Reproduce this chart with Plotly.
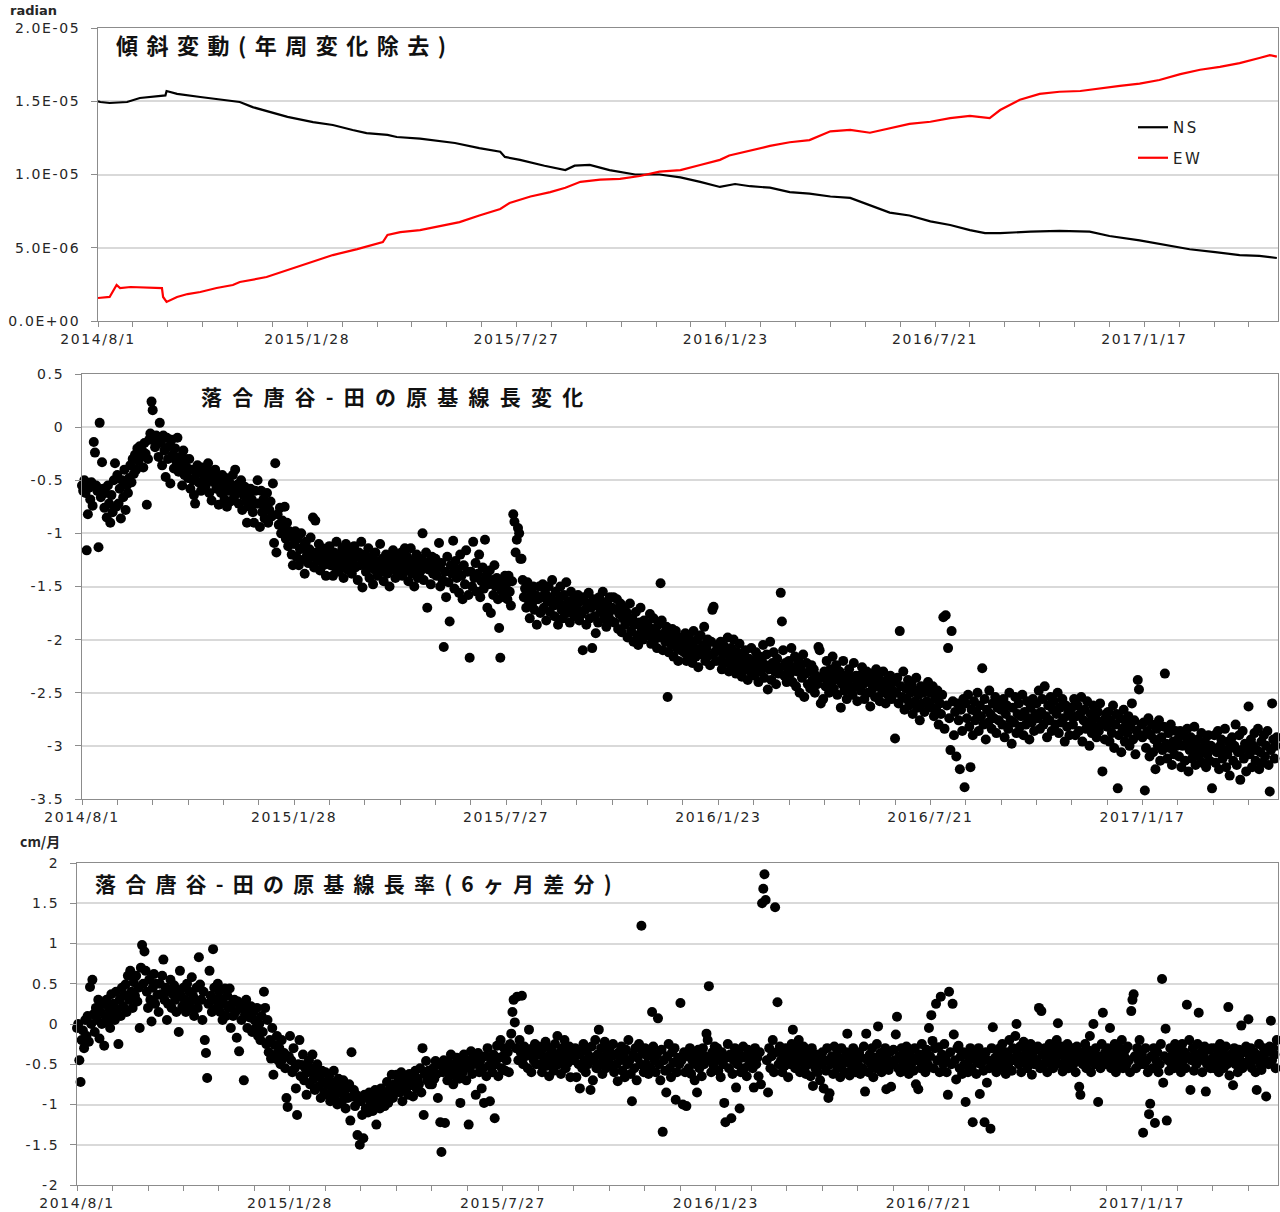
import pandas as pd
import plotly.graph_objects as go

# ---------------------------------------------------------------- data
START = "2014-08-01"
END = "2017-05-12"

date_labels = ["2014/8/1", "2015/1/28", "2015/7/27", "2016/1/23", "2016/7/21", "2017/1/17"]
tilt_labels = ["0.0E+00", "5.0E-06", "1.0E-05", "1.5E-05", "2.0E-05"]
length_labels = ["0.5", "0", "-0.5", "-1", "-1.5", "-2", "-2.5", "-3", "-3.5"]
rate_labels = ["2", "1.5", "1", "0.5", "0", "-0.5", "-1", "-1.5", "-2"]

# tilt, micro-radian, sampled at day offsets from START
ns_day = [0, 2, 10, 25, 36, 53, 58, 59, 68, 88,
          111, 122, 133, 150, 163, 185, 202, 219, 231, 249,
          257, 277, 294, 307, 328, 346, 350, 363, 384, 402,
          410, 423, 440, 462, 483, 501, 518, 535, 548, 561,
          578, 595, 612, 630, 647, 664, 681, 698, 716, 733,
          750, 763, 776, 802, 827, 853, 870, 896, 918, 939,
          961, 982, 999, 1014]
ns_urad = [15.0, 14.95, 14.88, 14.95, 15.22, 15.36, 15.4, 15.7, 15.5, 15.29,
           15.07, 14.95, 14.6, 14.2, 13.93, 13.58, 13.38, 13.04, 12.83, 12.7,
           12.56, 12.45, 12.3, 12.15, 11.8, 11.55, 11.2, 11.0, 10.6, 10.3,
           10.6, 10.65, 10.3, 10.0, 10.0, 9.8, 9.5, 9.15, 9.35, 9.2,
           9.1, 8.8, 8.7, 8.5, 8.4, 7.9, 7.4, 7.2, 6.8, 6.55,
           6.2, 6.0, 6.0, 6.1, 6.15, 6.1, 5.8, 5.5, 5.2, 4.9,
           4.7, 4.5, 4.45, 4.3]

ew_day = [0, 10, 16, 19, 28, 45, 55, 56, 59, 68,
          77, 88, 102, 116, 122, 145, 163, 180, 202, 223,
          245, 249, 260, 277, 294, 311, 328, 346, 354, 372,
          389, 402, 415, 432, 449, 466, 483, 501, 518, 535,
          543, 561, 578, 595, 612, 630, 647, 664, 681, 698,
          716, 733, 750, 767, 776, 793, 810, 827, 845, 862,
          879, 896, 913, 931, 948, 965, 982, 999, 1008, 1014]
ew_urad = [1.57, 1.64, 2.46, 2.25, 2.32, 2.3, 2.25, 1.64, 1.3, 1.64,
           1.84, 1.98, 2.25, 2.46, 2.66, 3.0, 3.48, 3.96, 4.5, 4.91,
           5.39, 5.87, 6.07, 6.2, 6.45, 6.75, 7.2, 7.65, 8.05, 8.5,
           8.8, 9.1, 9.5, 9.65, 9.7, 9.9, 10.2, 10.3, 10.65, 11.0,
           11.3, 11.65, 11.95, 12.2, 12.35, 12.95, 13.05, 12.85, 13.15, 13.45,
           13.6, 13.85, 14.0, 13.85, 14.4, 15.1, 15.5, 15.65, 15.7, 15.9,
           16.05, 16.2, 16.45, 16.85, 17.15, 17.35, 17.6, 17.95, 18.15, 18.05]

# daily baseline length change (cm), one value per day from START
baseline_cm = [
    -0.55, -0.6, -0.5, -0.62, -1.16, -0.82, -0.57, -0.68, -0.52, -0.74, -0.14, -0.24, -0.55, -0.6, -1.13,
    0.04, -0.66, -0.33, -0.58, -0.76, -0.62, -0.85, -0.55, -0.72, -0.9, -0.64, -0.8, -0.5, -0.34, -0.75,
    -0.45, -0.72, -0.58, -0.86, -0.5, -0.66, -0.4, -0.78, -0.55, -0.62, -0.48, -0.36, -0.52, -0.3, -0.44,
    -0.26, -0.4, -0.2, -0.32, -0.18, -0.28, -0.22, -0.38, -0.15, -0.25, -0.73, -0.3, -0.12, -0.06, 0.24,
    0.16, -0.12, -0.19, -0.08, -0.1, -0.28, 0.04, -0.15, -0.36, -0.08, -0.22, -0.47, -0.1, -0.3, -0.18,
    -0.53, -0.12, -0.26, -0.39, -0.2, -0.32, -0.1, -0.42, -0.28, -0.36, -0.55, -0.22, -0.45, -0.3, -0.38,
    -0.48, -0.3, -0.58, -0.4, -0.5, -0.64, -0.72, -0.44, -0.36, -0.52, -0.42, -0.6, -0.38, -0.5, -0.46,
    -0.55, -0.4, -0.34, -0.62, -0.48, -0.69, -0.44, -0.52, -0.4, -0.58, -0.47, -0.73, -0.5, -0.62, -0.45,
    -0.55, -0.68, -0.48, -0.75, -0.6, -0.52, -0.7, -0.58, -0.45, -0.66, -0.4, -0.62, -0.54, -0.72, -0.6,
    -0.5, -0.78, -0.64, -0.56, -0.7, -0.9, -0.62, -0.75, -0.58, -0.68, -0.8, -0.9, -0.6, -0.72, -0.5,
    -0.72, -0.94, -0.6, -0.8, -0.68, -0.86, -0.74, -0.62, -0.9, -0.78, -0.7, -0.84, -0.53, -1.09, -0.34,
    -1.18, -0.82, -0.92, -0.76, -1.0, -0.88, -0.95, -0.75, -1.05, -0.9, -1.12, -0.98, -1.03, -1.2, -1.3,
    -1.1, -0.98, -1.22, -1.05, -1.3, -1.15, -1.0, -1.25, -1.12, -1.38, -1.08, -1.2, -1.28, -1.15, -1.04,
    -1.22, -0.85, -1.32, -0.88, -1.18, -1.26, -1.1, -1.35, -1.2, -1.14, -1.3, -1.24, -1.4, -1.16, -1.28,
    -1.12, -1.3, -1.22, -1.4, -1.18, -1.32, -1.08, -1.26, -1.36, -1.2, -1.3, -1.14, -1.42, -1.24, -1.1,
    -1.34, -1.2, -1.28, -1.16, -1.38, -1.25, -1.12, -1.32, -1.22, -1.44, -1.18, -1.3, -1.08, -1.51, -1.26,
    -1.2, -1.36, -1.28, -1.14, -1.42, -1.3, -1.22, -1.48, -1.34, -1.18, -1.26, -1.4, -1.3, -1.1, -1.36,
    -1.24, -1.45, -1.32, -1.2, -1.38, -1.28, -1.5, -1.22, -1.34, -1.16, -1.3, -1.42, -1.26, -1.36, -1.2,
    -1.3, -1.18, -1.4, -1.25, -1.14, -1.35, -1.22, -1.45, -1.3, -1.14, -1.38, -1.26, -1.5, -1.32, -1.2,
    -1.42, -1.28, -1.36, -1.24, -1.0, -1.44, -1.3, -1.18, -1.7, -1.34, -1.26, -1.48, -1.22, -1.38, -1.3,
    -1.24, -1.4, -1.32, -1.09, -1.5, -1.28, -1.44, -2.07, -1.36, -1.6, -1.22, -1.46, -1.83, -1.3, -1.38,
    -1.07, -1.52, -1.26, -1.42, -1.34, -1.56, -1.2, -1.4, -1.62, -1.3, -1.48, -1.16, -1.36, -1.58, -2.17,
    -1.36, -1.5, -1.08, -1.42, -1.28, -1.55, -1.38, -1.2, -1.6, -1.45, -1.32, -1.52, -1.06, -1.4, -1.7,
    -1.48, -1.35, -1.75, -1.44, -1.58, -1.3, -1.5, -1.42, -1.62, -1.89, -2.17, -1.54, -1.46, -1.6, -1.4,
    -1.48, -1.62, -1.4, -1.55, -1.68, -1.45, -0.82, -0.89, -1.18, -1.06, -0.95, -1.0, -1.24, -1.24, -1.44,
    -1.6, -1.52, -1.7, -1.46, -1.63, -1.8, -1.55, -1.66, -1.5, -1.72, -1.58, -1.86, -1.62, -1.5, -1.75,
    -1.6, -1.48, -1.7, -1.56, -1.82, -1.64, -1.5, -1.74, -1.6, -1.44, -1.68, -1.78, -1.55, -1.66, -1.86,
    -1.62, -1.5, -1.72, -1.8, -1.58, -1.68, -1.46, -1.75, -1.64, -1.84, -1.55, -1.7, -1.62, -1.78, -1.66,
    -1.7, -1.58, -1.82, -1.64, -1.76, -2.1, -1.6, -1.72, -1.86, -1.66, -1.56, -1.8, -1.7, -2.08, -1.62,
    -1.78, -1.94, -1.68, -1.84, -1.6, -1.74, -1.66, -1.55, -1.8, -1.7, -1.88, -1.64, -1.76, -1.6, -1.82,
    -1.7, -1.6, -1.84, -1.72, -1.62, -1.9, -1.76, -1.66, -1.93, -1.8, -1.7, -1.86, -1.74, -1.98, -1.82,
    -1.66, -1.92, -1.8, -2.02, -1.86, -1.74, -1.96, -2.05, -1.84, -1.7, -1.9, -2.0, -1.82, -1.94, -1.88,
    -1.85, -1.96, -1.76, -2.04, -1.9, -1.8, -2.0, -1.92, -2.08, -1.86, -1.98, -1.47, -1.82, -2.1, -1.94,
    -2.02, -1.88, -2.54, -2.12, -1.96, -2.05, -1.9, -2.16, -2.0, -1.92, -2.08, -2.2, -1.98, -2.1, -2.04,
    -2.0, -2.12, -1.94, -2.2, -2.06, -1.98, -2.14, -2.04, -2.22, -1.92, -2.08, -2.16, -2.0, -2.26, -2.1,
    -1.96, -2.14, -2.05, -1.88, -2.2, -2.08, -2.0, -2.15, -2.24, -2.02, -1.72, -1.69, -2.12, -2.2, -2.06,
    -2.1, -2.2, -2.02, -2.28, -2.14, -2.06, -2.22, -2.12, -1.98, -2.3, -2.16, -2.08, -2.24, -2.0, -2.18,
    -2.32, -2.12, -2.26, -2.04, -2.2, -2.35, -2.14, -2.28, -2.1, -2.22, -2.38, -2.18, -2.3, -2.08, -2.24,
    -2.2, -2.34, -2.12, -2.26, -2.4, -2.16, -2.3, -2.2, -2.05, -2.36, -2.24, -2.14, -2.47, -2.28, -2.02,
    -2.38, -2.22, -2.12, -2.3, -2.42, -2.18, -2.32, -2.26, -1.56, -1.83, -2.1, -2.34, -2.22, -2.4, -2.28,
    -2.2, -2.32, -2.08, -2.4, -2.26, -2.16, -2.44, -2.3, -2.2, -2.5, -2.25, -2.36, -2.14, -2.54, -2.32,
    -2.22, -2.42, -2.3, -2.46, -2.24, -2.38, -2.28, -2.5, -2.34, -2.42, -2.07, -2.1, -2.6, -2.36, -2.56,
    -2.3, -2.44, -2.2, -2.36, -2.5, -2.28, -2.4, -2.16, -2.46, -2.32, -2.24, -2.52, -2.38, -2.3, -2.64,
    -2.42, -2.2, -2.48, -2.34, -2.56, -2.4, -2.28, -2.46, -2.36, -2.52, -2.22, -2.44, -2.34, -2.58, -2.4,
    -2.34, -2.48, -2.26, -2.42, -2.56, -2.36, -2.3, -2.5, -2.4, -2.63, -2.32, -2.46, -2.38, -2.54, -2.28,
    -2.44, -2.36, -2.58, -2.42, -2.5, -2.3, -2.46, -2.6, -2.38, -2.52, -2.42, -2.34, -2.56, -2.48, -2.4,
    -2.93, -2.5, -2.36, -2.6, -1.92, -2.44, -2.54, -2.3, -2.66, -2.46, -2.56, -2.38, -2.62, -2.5, -2.42,
    -2.7, -2.48, -2.58, -2.36, -2.64, -2.52, -2.76, -2.44, -2.6, -2.5, -2.68, -2.46, -2.58, -2.4, -2.62,
    -2.5, -2.64, -2.44, -2.72, -2.56, -2.66, -2.48, -2.8, -2.6, -2.7, -2.52, -1.79, -2.84, -1.77, -2.62,
    -2.08, -2.74, -3.04, -1.92, -2.58, -2.9, -2.68, -3.1, -2.6, -2.76, -3.22, -2.66, -2.86, -2.56, -3.39,
    -2.6, -2.74, -2.52, -2.82, -3.2, -2.66, -2.9, -2.58, -2.76, -2.68, -2.5, -2.86, -2.62, -2.72, -2.27,
    -2.8, -2.56, -2.94, -2.66, -2.78, -2.48, -2.7, -2.84, -2.6, -2.74, -2.54, -2.88, -2.64, -2.76, -2.58,
    -2.66, -2.8, -2.56, -2.92, -2.7, -2.62, -2.84, -2.5, -2.76, -2.98, -2.64, -2.78, -2.54, -2.88, -2.7,
    -2.6, -2.82, -2.72, -2.52, -2.9, -2.68, -2.8, -2.58, -2.74, -2.94, -2.64, -2.78, -2.56, -2.86, -2.7,
    -2.6, -2.74, -2.48, -2.84, -2.68, -2.56, -2.8, -2.44, -2.72, -2.92, -2.62, -2.76, -2.54, -2.86, -2.66,
    -2.58, -2.8, -2.7, -2.5, -2.88, -2.64, -2.78, -2.56, -2.74, -2.96, -2.62, -2.82, -2.68, -2.9, -2.72,
    -2.64, -2.8, -2.56, -2.9, -2.72, -2.62, -2.86, -2.7, -2.54, -2.96, -2.76, -2.66, -2.84, -2.58, -2.78,
    -3.0, -2.7, -2.88, -2.62, -2.82, -2.74, -2.92, -2.68, -2.86, -2.6, -2.8, -3.24, -2.76, -2.94, -2.7,
    -2.82, -2.68, -2.96, -2.76, -2.88, -2.62, -3.02, -2.8, -2.7, -3.4, -2.9, -2.74, -3.06, -2.84, -2.66,
    -2.96, -2.78, -2.88, -2.72, -3.0, -2.82, -2.6, -2.94, -2.76, -3.08, -2.86, -2.38, -2.47, -2.9, -2.8,
    -2.92, -2.78, -3.42, -3.02, -2.86, -2.74, -3.1, -2.9, -2.8, -3.06, -2.94, -3.22, -2.84, -3.0, -2.76,
    -3.14, -2.92, -3.04, -2.82, -2.32, -2.98, -3.12, -2.88, -3.02, -2.8, -3.18, -2.96, -3.08, -2.86, -3.0,
    -2.94, -3.1, -2.86, -3.2, -3.0, -2.9, -3.14, -2.98, -2.84, -3.24, -3.04, -2.92, -3.12, -3.0, -2.82,
    -3.18, -3.06, -2.94, -3.1, -3.02, -2.88, -3.16, -3.04, -2.96, -3.2, -3.08, -2.9, -3.14, -3.0, -3.4,
    -3.02, -2.9, -3.16, -3.06, -2.86, -3.22, -3.0, -2.94, -3.12, -3.04, -2.84, -3.2, -3.08, -2.96, -3.28,
    -3.02, -2.92, -3.14, -3.0, -2.8, -3.18, -3.06, -2.9, -3.32, -3.04, -2.86, -3.12, -2.98, -3.24, -3.02,
    -2.63, -3.08, -2.94, -3.2, -3.0, -2.88, -3.14, -3.04, -2.84, -3.22, -3.06, -2.96, -3.16, -2.9, -3.1,
    -3.0, -2.86, -3.18, -3.43, -3.04, -2.6, -2.94, -3.12, -3.0, -2.92,
]

# daily baseline length rate, 6-month difference (cm/month), one value per day from START
rate_cm_month = [
    -0.05, 0.0, -0.45, -0.72, -0.2, -0.08, -0.3, 0.05, -0.15, 0.1, -0.22, 0.46, 0.0, 0.55, 0.12,
    -0.1, 0.2, 0.05, 0.3, -0.18, 0.15, 0.0, 0.25, -0.27, 0.1, 0.3, 0.02, 0.2, -0.05, 0.37,
    0.12, 0.25, 0.05, 0.4, 0.18, -0.25, 0.3, 0.1, 0.45, 0.22, 0.36, 0.49, 0.15, 0.6, 0.3,
    0.66, 0.4, 0.2, 0.52, 0.35, 0.6, 0.28, 0.45, -0.05, 0.7, 0.98, 0.5, 0.9, 0.66, 0.4,
    0.2, 0.55, 0.3, 0.03, 0.45, 0.62, 0.25, 0.5, 0.36, 0.15, 0.5, 0.37, 0.6, 0.8, 0.3,
    0.45, 0.05, 0.25, 0.4, 0.55, 0.2, 0.37, 0.48, 0.3, 0.15, 0.42, -0.1, 0.66, 0.35, 0.22,
    0.45, 0.3, 0.15, 0.5, 0.28, 0.4, 0.2, 0.58, 0.35, 0.1, 0.3, 0.45, 0.2, 0.83, 0.49,
    0.3, 0.05, 0.4, -0.2, -0.36, -0.67, 0.25, 0.66, 0.35, 0.15, 0.93, 0.45, 0.3, 0.2, 0.5,
    0.4, 0.15, 0.3, 0.05, 0.25, 0.44, 0.1, 0.35, 0.2, 0.44, -0.05, 0.25, 0.1, 0.3, 0.15,
    -0.17, 0.28, -0.34, 0.2, 0.05, 0.25, -0.7, 0.12, 0.3, -0.05, 0.18, 0.08, 0.22, -0.1, 0.15,
    0.05, -0.05, 0.2, -0.15, 0.0, -0.2, 0.1, -0.1, 0.4, 0.2, -0.25, 0.05, -0.35, -0.2, -0.43,
    -0.05, -0.63, -0.26, -0.38, -0.15, -0.45, -0.3, -0.5, -0.2, -0.43, -0.36, -0.55, -0.92, -1.03, -0.4,
    -0.15, -0.45, -0.6, -0.3, -0.55, -0.8, -1.13, -0.5, -0.2, -0.65, -0.51, -0.38, -0.7, -0.55, -0.88,
    -0.6, -0.45, -0.75, -0.55, -0.38, -0.68, -0.82, -0.6, -0.5, -0.78, -0.66, -0.92, -0.58, -0.72, -0.85,
    -0.6, -0.75, -0.88, -0.65, -0.96, -0.72, -0.82, -0.58, -0.9, -0.75, -1.0, -0.68, -0.85, -0.78, -0.96,
    -0.7, -0.88, -1.05, -0.8, -0.92, -0.75, -1.2, -0.35, -0.9, -0.82, -1.02, -0.88, -1.38, -0.96, -1.5,
    -0.96, -1.13, -1.42, -0.88, -1.05, -0.92, -1.1, -0.85, -1.0, -0.9, -1.08, -0.95, -0.82, -1.25, -1.0,
    -0.88, -1.05, -0.8, -0.95, -0.9, -1.02, -0.85, -0.72, -0.98, -0.88, -0.8, -0.63, -0.92, -0.75, -0.85,
    -0.63, -0.8, -0.7, -0.85, -0.6, -0.96, -0.75, -0.68, -0.82, -0.7, -0.88, -0.62, -0.76, -0.66, -0.9,
    -0.72, -0.58, -0.8, -0.68, -0.75, -0.55, -0.85, -0.3, -1.13, -0.62, -0.46, -0.7, -0.58, -0.75, -0.6,
    -0.75, -0.55, -0.68, -0.46, -0.62, -0.92, -0.5, -1.22, -1.59, -0.6, -0.45, -1.23, -0.55, -0.7, -0.48,
    -0.62, -0.38, -0.58, -0.75, -0.5, -0.65, -0.42, -0.55, -0.68, -0.98, -0.45, -0.6, -0.38, -0.52, -0.7,
    -0.45, -1.25, -0.55, -0.34, -0.62, -0.48, -0.4, -0.88, -0.5, -0.36, -0.6, -0.45, -0.8, -0.55, -0.98,
    -0.4, -0.65, -0.3, -0.52, -0.96, -0.44, -0.6, -0.38, -1.17, -0.5, -0.27, -0.65, -0.42, -0.2, -0.55,
    -0.4, -0.3, -0.58, -0.45, -0.35, -0.6, -0.25, -0.12, 0.15, 0.3, 0.02, -0.3, 0.34, -0.45, -0.2,
    -0.35, 0.35, -0.5, -0.28, -0.4, -0.32, -0.55, -0.07, -0.38, -0.6, -0.3, -0.45, -0.25, -0.5, -0.36,
    -0.28, -0.5, -0.38, -0.6, -0.3, -0.45, -0.22, -0.52, -0.4, -0.65, -0.3, -0.48, -0.35, -0.58, -0.25,
    -0.42, -0.15, -0.5, -0.36, -0.62, -0.3, -0.45, -0.2, -0.55, -0.38, -0.48, -0.28, -0.66, -0.4, -0.32,
    -0.45, -0.3, -0.66, -0.38, -0.5, -0.8, -0.35, -0.55, -0.25, -0.45, -0.6, -0.32, -0.5, -0.4, -0.82,
    -0.28, -0.7, -0.45, -0.2, -0.55, -0.38, -0.07, -0.5, -0.3, -0.62, -0.42, -0.22, -0.55, -0.35, -0.48,
    -0.3, -0.52, -0.4, -0.25, -0.6, -0.38, -0.5, -0.71, -0.35, -0.45, -0.28, -0.58, -0.4, -0.66, -0.32,
    -0.5, -0.2, -0.45, -0.62, -0.96, -0.38, -0.55, -0.3, -0.7, -0.42, -0.25, -0.5, 1.22, -0.36, -0.6,
    -0.3, -0.5, -0.4, -0.62, -0.35, -0.55, 0.15, -0.28, -0.45, -0.6, -0.38, 0.07, -0.5, -0.7, -0.32,
    -1.34, -0.45, -0.58, -0.85, -0.4, -0.25, -0.55, -0.66, -0.35, -0.48, -0.3, -0.94, -0.6, -0.42, -0.5,
    0.26, -0.45, -1.0, -0.35, -0.6, -1.02, -0.4, -0.55, -0.3, -0.62, -0.45, -0.38, -0.7, -0.5, -0.85,
    -0.32, -0.55, -0.42, -0.65, -0.3, -0.5, -0.4, -0.12, -0.2, 0.47, -0.45, -0.6, -0.35, -0.52, -0.28,
    -0.45, -0.3, -0.58, -0.4, -0.66, -0.35, -0.5, -0.98, -1.22, -0.42, -0.25, -0.55, -0.38, -1.17, -0.62,
    -0.45, -0.3, -0.79, -0.5, -0.36, -1.05, -0.6, -0.42, -0.28, -0.55, -0.4, -0.65, -0.32, -0.5, -0.45,
    -0.4, -0.55, -0.79, -0.3, -0.5, -0.42, -0.65, -0.35, -0.75, 1.5, 1.68, 1.86, 1.54, -0.45, -0.85,
    -0.3, -0.55, -0.4, -0.2, -0.6, 1.45, -0.35, 0.27, -0.5, -0.28, -0.45, -0.6, -0.38, -0.52, -0.3,
    -0.45, -0.66, -0.35, -0.5, -0.25, -0.07, -0.4, -0.55, -0.3, -0.48, -0.2, -0.6, -0.38, -0.45, -0.28,
    -0.55, -0.62, -0.35, -0.5, -0.4, -0.65, -0.3, -0.77, -0.45, -0.55, -0.38, -0.6, -0.42, -0.7, -0.5,
    -0.35, -0.8, -0.45, -0.58, -0.3, -0.92, -0.86, -0.5, -0.4, -0.62, -0.28, -0.5, -0.38, -0.55, -0.45,
    -0.66, -0.3, -0.5, -0.42, -0.6, -0.35, -0.12, -0.48, -0.64, -0.4, -0.55, -0.3, -0.45, -0.6, -0.38,
    -0.5, -0.35, -0.62, -0.42, -0.55, -0.28, -0.84, -0.12, -0.45, -0.6, -0.38, -0.5, -0.3, -0.66, -0.42,
    -0.55, -0.25, -0.03, -0.48, -0.36, -0.6, -0.4, -0.52, -0.3, -0.81, -0.45, -0.57, -0.35, -0.78, -0.5,
    -0.32, -0.45, -0.13, 0.09, -0.55, -0.4, -0.6, -0.3, -0.48, -0.38, -0.55, -0.28, -0.45, -0.62, -0.35,
    -0.5, -0.42, -0.58, -0.3, -0.75, -0.45, -0.81, -0.38, -0.55, -0.25, -0.48, -0.4, -0.6, -0.32, -0.5,
    -0.05, -0.4, 0.11, -0.21, -0.55, -0.3, 0.25, -0.45, -0.29, -0.6, 0.34, -0.38, -0.5, -0.25, -0.42,
    -0.6, -0.88, 0.4, -0.35, -0.5, 0.25, -0.13, -0.45, -0.69, -0.3, -0.27, -0.55, -0.4, -0.62, -0.35,
    -0.5, -0.97, -0.38, -0.6, -0.45, -0.3, -0.55, -1.22, -0.42, -0.35, -0.62, -0.48, -0.3, -0.87, -0.5,
    -0.4, -0.58, -1.22, -0.35, -0.73, -0.45, -0.55, -1.3, -0.3, -0.04, -0.5, -0.42, -0.6, -0.38, -0.52,
    -0.3, -0.45, -0.25, -0.55, -0.4, -0.62, -0.35, -0.5, -0.2, -0.42, -0.58, -0.3, -0.45, -0.15, 0.0,
    -0.38, -0.5, -0.28, -0.6, -0.4, -0.22, -0.48, -0.35, -0.55, -0.3, -0.45, -0.25, -0.63, -0.4, -0.5,
    -0.32, -0.45, -0.28, 0.2, -0.55, 0.16, -0.38, -0.5, -0.3, -0.45, -0.6, -0.35, -0.25, -0.5, -0.4,
    -0.55, -0.3, -0.45, -0.2, 0.01, -0.38, -0.5, -0.28, -0.59, -0.4, -0.32, -0.48, -0.25, -0.55, -0.36,
    -0.45, -0.3, -0.5, -0.38, -0.6, -0.28, -0.45, -0.78, -0.88, -0.35, -0.5, -0.4, -0.25, -0.55, -0.32,
    -0.45, -0.15, -0.6, -0.38, 0.0, -0.5, -0.3, -0.45, -0.97, -0.4, -0.55, -0.25, 0.14, -0.48, -0.35,
    -0.5, -0.3, -0.42, -0.05, -0.55, -0.35, -0.45, -0.25, -0.6, -0.38, -0.5, -0.3, -0.45, -0.2, -0.55,
    -0.4, -0.32, -0.5, -0.28, -0.45, -0.6, 0.16, 0.3, 0.37, -0.4, -0.55, -0.3, -0.45, -0.2, -0.5,
    -0.38, -1.35, -0.5, -0.3, -0.45, -0.6, -1.12, -0.99, -0.4, -0.55, -0.3, -1.23, -0.45, -0.35, -0.6,
    -0.5, -0.25, 0.56, -0.73, -0.4, -0.06, -1.2, -0.45, -0.58, -0.3, -0.5, -0.38, -0.55, -0.25, -0.42,
    -0.3, -0.5, -0.38, -0.6, -0.25, -0.45, -0.35, -0.55, 0.24, -0.4, -0.2, -0.82, -0.45, -0.3, -0.58,
    -0.38, -0.5, -0.25, 0.14, -0.45, -0.35, -0.6, -0.4, -0.28, -0.84, -0.5, -0.32, -0.45, -0.55, -0.3,
    -0.42, -0.55, -0.3, -0.5, -0.38, -0.6, -0.25, -0.45, -0.35, -0.55, -0.4, -0.28, -0.5, 0.21, -0.64,
    -0.38, -0.45, -0.76, -0.3, -0.5, -0.4, -0.6, -0.32, -0.45, -0.02, -0.55, -0.35, -0.48, -0.28, -0.5,
    0.06, -0.4, -0.3, -0.55, -0.45, -0.35, -0.6, -0.82, -0.42, -0.25, -0.5, -0.57, -0.38, -0.3, -0.45,
    -0.9, -0.35, -0.5, -0.28, 0.04, -0.45, -0.3, -0.38, -0.55, -0.2,
]

# ---------------------------------------------------------------- helpers
start = pd.Timestamp(START)


def day_dates(days):
    return start + pd.to_timedelta(days, unit="D")


def daily_dates(values):
    return pd.date_range(START, periods=len(values), freq="D")


def spaced(text, px):
    return f'<span style="letter-spacing:{px}px">{text}</span>'


TICK_FONT = dict(family="DejaVu Sans", size=14, color="#262626")
TITLE_FONT = dict(family="Noto Sans CJK JP", size=21, color="#111111")
GRID = "#d9d9d9"
LINE = "#8c8c8c"

date_vals = pd.to_datetime(date_labels, format="%Y/%m/%d")
date_text = [spaced(t, 1.6) for t in date_labels]


def x_axis(domain, anchor):
    return dict(
        domain=domain, anchor=anchor, type="date", range=[START, END],
        automargin=False,
        tickmode="array", tickvals=date_vals, ticktext=date_text,
        ticks="outside", ticklen=5, tickcolor=LINE, tickwidth=1,
        minor=dict(ticks="outside", ticklen=5, tickcolor=LINE, tickwidth=1,
                   tick0=START, dtick=30 * 86400000, showgrid=False),
        showgrid=False, showline=True, linecolor=LINE, linewidth=1, mirror=True,
        tickfont=TICK_FONT, zeroline=False,
    )


def y_axis(domain, anchor, labels, lo, hi):
    return dict(
        domain=domain, anchor=anchor, range=[lo, hi],
        automargin=False,
        tickmode="array", tickvals=[float(t) for t in labels],
        ticktext=[spaced(t, 1.6) for t in labels],
        ticks="outside", ticklen=6, tickcolor=LINE, tickwidth=1,
        ticklabelstandoff=8,
        showgrid=True, gridcolor=GRID, gridwidth=1.5,
        showline=True, linecolor=LINE, linewidth=1, mirror=True,
        tickfont=TICK_FONT, zeroline=False,
    )


W, H = 1280, 1212


def px_x(p):
    return p / W


def px_y(p):
    return 1 - p / H


# ---------------------------------------------------------------- figure
fig = go.Figure()

fig.add_trace(go.Scatter(
    x=day_dates(ns_day), y=[v * 1e-6 for v in ns_urad], mode="lines",
    name=spaced("NS", 2.5), legendgroup="ns",
    line=dict(color="#000000", width=2.2), xaxis="x", yaxis="y",
))
fig.add_trace(go.Scatter(
    x=day_dates(ew_day), y=[v * 1e-6 for v in ew_urad], mode="lines",
    name=spaced("EW", 2.5), legendgroup="ew",
    line=dict(color="#ff0000", width=2.2), xaxis="x", yaxis="y",
))
fig.add_trace(go.Scatter(
    x=daily_dates(baseline_cm), y=baseline_cm, mode="markers", showlegend=False,
    marker=dict(color="#000000", size=10, line=dict(width=0)),
    cliponaxis=False, xaxis="x2", yaxis="y2",
))
fig.add_trace(go.Scatter(
    x=daily_dates(rate_cm_month), y=rate_cm_month, mode="markers", showlegend=False,
    marker=dict(color="#000000", size=10, line=dict(width=0)),
    cliponaxis=False, xaxis="x3", yaxis="y3",
))

dom1_x = [px_x(98), px_x(1278)]
dom1_y = [px_y(321), px_y(28)]
dom2_x = [px_x(82), px_x(1278)]
dom2_y = [px_y(799), px_y(374)]
dom3_x = [px_x(77), px_x(1278)]
dom3_y = [px_y(1185), px_y(863)]

fig.update_layout(
    width=W, height=H, margin=dict(l=0, r=0, t=0, b=0, autoexpand=False),
    paper_bgcolor="white", plot_bgcolor="white",
    xaxis=x_axis(dom1_x, "y"),
    yaxis=y_axis(dom1_y, "x", tilt_labels, 0, 2e-5),
    xaxis2=x_axis(dom2_x, "y2"),
    yaxis2=y_axis(dom2_y, "x2", length_labels, -3.5, 0.5),
    xaxis3=x_axis(dom3_x, "y3"),
    yaxis3=y_axis(dom3_y, "x3", rate_labels, -2, 2),
    showlegend=True,
    legend=dict(
        x=px_x(1133), y=px_y(111), xanchor="left", yanchor="top",
        bgcolor="rgba(0,0,0,0)", traceorder="grouped", tracegroupgap=8,
        font=dict(family="DejaVu Sans", size=15, color="#222222"),
        itemwidth=30,
    ),
)

annotations = [
    dict(text="<b>" + spaced("傾斜変動(年周変化除去)", 8.5) + "</b>",
         x=px_x(114), y=px_y(44), font=dict(TITLE_FONT, size=22)),
    dict(text="<b>" + spaced("落合唐谷-田の原基線長変化", 10.2) + "</b>",
         x=px_x(199), y=px_y(396), font=TITLE_FONT),
    dict(text="<b>" + spaced("落合唐谷-田の原基線長率(6ヶ月差分)", 9.2) + "</b>",
         x=px_x(93), y=px_y(883), font=TITLE_FONT),
    dict(text="<b>radian</b>", x=px_x(8), y=px_y(11),
         font=dict(family="DejaVu Sans", size=13, color="#262626")),
    dict(text="<b>cm/月</b>", x=px_x(18), y=px_y(841),
         font=dict(family="Noto Sans CJK JP", size=14, color="#262626")),
]
for a in annotations:
    a.update(xref="paper", yref="paper", xanchor="left", yanchor="middle",
             showarrow=False)
fig.update_layout(annotations=annotations)

fig.write_html("out.html")
